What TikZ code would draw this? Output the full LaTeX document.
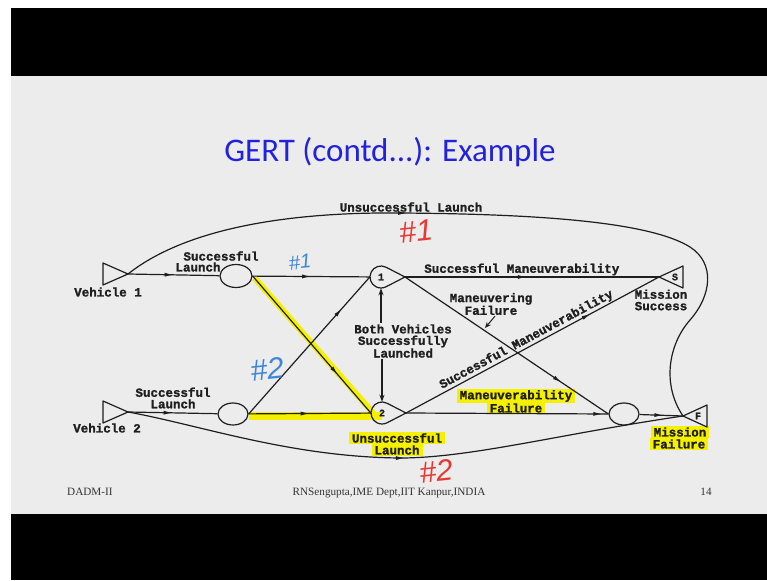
\documentclass[tikz,border=0pt]{standalone}
\usepackage{fontspec}
\setmainfont{Liberation Serif}
\newfontfamily\typew[FakeBold=1.3]{Liberation Mono}
\newfontfamily\titlef{Carlito}
\newfontfamily\handf{Liberation Sans}
\usetikzlibrary{shapes.geometric,arrows.meta,decorations.markings}
\pgfdeclarelayer{backdrop}
\pgfdeclarelayer{hilite}
\pgfsetlayers{backdrop,hilite,main}

\definecolor{slidebg}{HTML}{ECECEC}
\definecolor{ink}{HTML}{1E1E1E}
\definecolor{hl}{HTML}{F5F000}
\definecolor{titleblue}{HTML}{2222DD}
\definecolor{penred}{HTML}{E53935}
\definecolor{penblue}{HTML}{3F86D8}

\begin{document}
\begin{tikzpicture}[x=1pt,y=1pt,
  lbl/.style={font=\typew\bfseries\fontsize{12.5}{11.5}\selectfont, text=ink, inner sep=1pt, align=center},
  hlbl/.style={lbl, fill=hl, inner xsep=3pt, inner ysep=1.5pt},
  small/.style={font=\typew\bfseries\fontsize{10}{10}\selectfont, text=ink, inner sep=0pt},
  conn/.style={draw=ink, line width=1.2pt},
  outline/.style={draw=ink, line width=1.2pt, line join=round},
  midarrow/.style={postaction={decorate, decoration={markings,
      mark=at position #1 with {\arrow{Latex[length=9pt,width=4pt]}}}}},
  tipped/.style={conn, -{Stealth[length=7pt,width=5pt]}},
  launch/.style={ellipse, outline, inner sep=0pt, minimum width=30pt, minimum height=22pt},
  hub/.style={circle, inner sep=0pt, minimum size=22pt, small},
  hlstroke/.style={draw=hl, line width=7pt},
  scrawl/.style={font=\handf\fontsize{#1}{#1}\selectfont, inner sep=0pt},
  foot/.style={font=\fontsize{11.2}{13}\selectfont, text=black!80, inner sep=0pt}]
\useasboundingbox (0,0) rectangle (767,-580);

% slide frame
\begin{pgfonlayer}{backdrop}
  \fill[white] (0,0) rectangle (767,-580);
  \fill[black] (11,-8) rectangle (767,-580);
  \fill[slidebg] (11,-76) rectangle (767,-514);
\end{pgfonlayer}

% title and footer
\node[font=\titlef\fontsize{33}{36}\selectfont, text=titleblue, anchor=base, inner sep=0pt] (title) at (390,-161) {GERT (contd...): Example};
\node[foot, anchor=base west] (footl) at (67,-495) {DADM-II};
\node[foot, anchor=base] (footc) at (389,-495) {RNSengupta,IME Dept,IIT Kanpur,INDIA};
\node[foot, anchor=base] (footr) at (706,-495) {14};

% sources and sinks
\coordinate (v1) at (128,-274);
\coordinate (v2) at (128,-412);
\coordinate (s) at (659,-277);
\coordinate (f) at (683,-416);
\draw[outline] (v1) -- ++(-25,11) -- ++(0,-22) -- cycle;
\draw[outline] (v2) -- ++(-25,11) -- ++(0,-22) -- cycle;
\draw[outline] (s) -- ++(24,11) -- ++(0,-22) -- cycle;
\draw[outline] (f) -- ++(24,11) -- ++(0,-22) -- cycle;
\node[small] (slab) at (675,-277) {S};
\node[small] (flab) at (698,-416) {F};

% launch and failure events
\node[launch, minimum width=32pt, minimum height=23pt] (l1) at (236,-276) {};
\node[launch] (l2) at (233,-414) {};
\node[launch] (e) at (624,-414) {};

% GERT hubs: round input side, pointed output side
\node[hub] (n1) at (381,-277) {1};
\node[hub] (n2) at (382,-413) {2};
\coordinate (n1p) at (405,-277);
\coordinate (n2p) at (406,-413);
\draw[outline] (n1p) -- ([shift={(62.7:11)}]n1.center) arc[start angle=62.7, end angle=297.3, radius=11] -- cycle;
\draw[outline] (n2p) -- ([shift={(62.7:11)}]n2.center) arc[start angle=62.7, end angle=297.3, radius=11] -- cycle;

% highlighter marks
\begin{pgfonlayer}{hilite}
  \draw[hlstroke, line width=6pt] ([shift={(2,-2)}]l1.east) -- ([shift={(4,-2)}]n2.west);
  \draw[hlstroke, line width=8pt] ([yshift=-2pt]l2.east) -- ([shift={(11,-3)}]n2.west);
  \node[hlbl] (ula) at (397,-438) {Unsuccessful};
  \node[hlbl] (ulb) at (397,-450) {Launch};
  \node[hlbl] (mfa) at (516,-396) {Maneuverability};
  \node[hlbl] (mfb) at (516,-408) {Failure};
  \node[hlbl] (mia) at (680,-432) {Mission};
  \node[hlbl] (mib) at (679,-444) {Failure};
\end{pgfonlayer}

% launches
\draw[conn, midarrow=0.5] (v1) -- (l1);
\draw[conn, midarrow=0.5] (v2) -- (l2);
\draw[conn, midarrow=0.5] (l1) -- (n1);
\draw[conn, midarrow=0.72] (l1.east) -- (n2.west);
\draw[conn, midarrow=0.77] (l2.east) -- (n1.west);
\draw[conn, midarrow=0.5] (l2) -- (n2);

% unsuccessful launches straight to failure
\draw[conn, midarrow=0.38] (v1) .. controls (190,-225) and (300,-212) .. (400,-213)
  .. controls (540,-214) and (650,-222) .. (690,-247)
  .. controls (715,-263) and (712,-295) .. (690,-320)
  .. controls (668,-345) and (662,-385) .. (f);
\draw[conn, midarrow=0.5] (v2) .. controls (200,-425) and (290,-457) .. (400,-458)
  .. controls (470,-458) and (560,-434) .. (f);

% maneuvering
\draw[conn, midarrow=0.48] (n1p) -- node[lbl, above, pos=0.46] (smt) {Successful Maneuverability} (s);
\draw[conn, midarrow=0.77] (n1p) -- (e.west);
\draw[conn, midarrow=0.73] (n2p) -- node[lbl, sloped, above, pos=0.49] (smd) {Successful Maneuverability} (s);
\draw[conn, midarrow=0.97] (n2p) -- (e.west);
\draw[conn, midarrow=0.55] (e) -- (f);

% labels
\node[lbl] (ul) at (411,-207) {Unsuccessful Launch};
\node[lbl] (v1l) at (108,-292) {Vehicle 1};
\node[lbl] (v2l) at (107,-428) {Vehicle 2};
\node[lbl] (sl1a) at (221,-256) {Successful};
\node[lbl] (sl1b) at (198,-267) {Launch};
\node[lbl] (sl2) at (173,-398) {Successful\\Launch};
\node[lbl] (ms) at (661,-300) {Mission\\Success};
\node[lbl] (mf) at (491,-304) {Maneuvering\\Failure};
\coordinate (mfp) at (485,-328);
\draw[conn, line width=1pt, -{Stealth[length=6pt,width=5pt]}] ([xshift=4pt]mf.south) -- (mfp);

\node[lbl] (bv) at (403,-341) {Both Vehicles\\Successfully\\Launched};
\draw[tipped] (bv.north -| n1) -- (n1.south);
\draw[tipped] (bv.south -| n2) -- (n2.north);

% pen annotations
\node[scrawl=30, text=penred, rotate=6] (r1) at (416,-231) {\itshape\#1};
\node[scrawl=20, text=penblue, rotate=6] (b1) at (300,-262) {\itshape\#1};
\node[scrawl=30, text=penblue, rotate=6] (b2) at (267,-369) {\itshape\#2};
\node[scrawl=30, text=penred, rotate=6] (r2) at (436,-471) {\itshape\#2};
\end{tikzpicture}
\end{document}
